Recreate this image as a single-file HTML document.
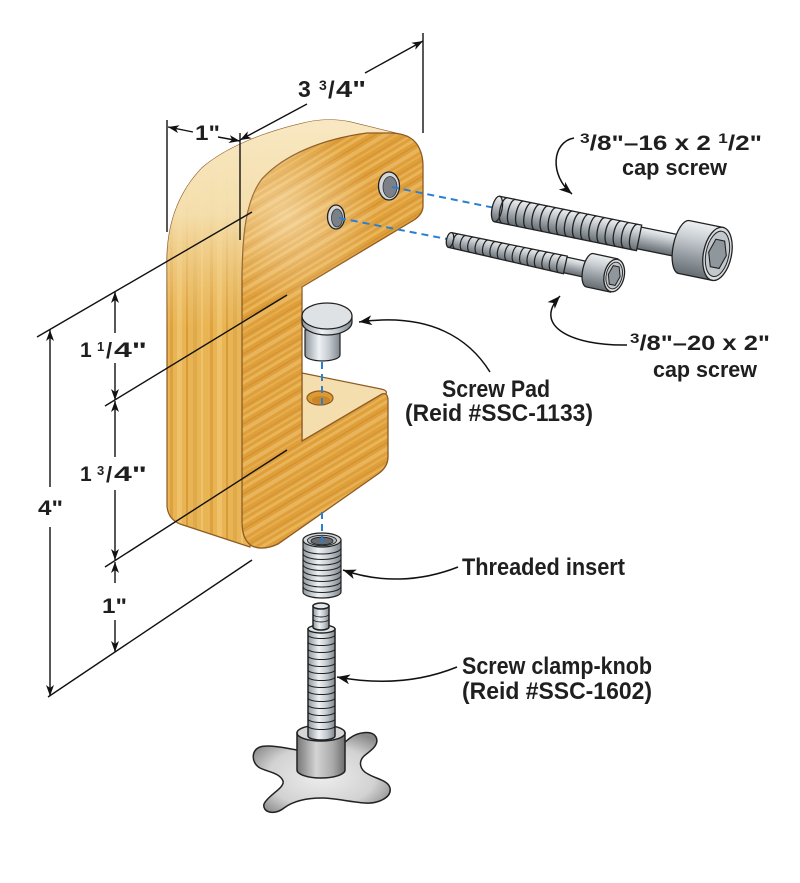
<!DOCTYPE html>
<html><head><meta charset="utf-8"><style>html,body{margin:0;padding:0;background:#fff}svg{display:block}</style></head>
<body>
<svg width="800" height="883" viewBox="0 0 800 883" xmlns="http://www.w3.org/2000/svg" font-family="'Liberation Sans', Arial, sans-serif" font-weight="bold">
<defs>
  <pattern id="grain" width="400" height="30" patternUnits="userSpaceOnUse" patternTransform="rotate(-31)">
    <rect width="400" height="30" fill="#df9f3b"/>
    <rect y="2" width="400" height="3" fill="#ebb95c" opacity=".85"/>
    <rect y="8" width="400" height="1.5" fill="#c9882a" opacity=".55"/>
    <rect y="12" width="400" height="4" fill="#eec06a" opacity=".7"/>
    <rect y="19" width="400" height="2" fill="#e6ae4e"/>
    <rect y="24" width="400" height="1.5" fill="#cd8d2e" opacity=".55"/>
    <rect y="27" width="400" height="2" fill="#f0c878" opacity=".5"/>
  </pattern>
  <pattern id="stripes" width="40" height="10" patternUnits="userSpaceOnUse" x="167">
    <rect width="40" height="10" fill="#e9b453"/>
    <rect x="3" width="3" height="10" fill="#d99c3a" opacity=".8"/>
    <rect x="10" width="5" height="10" fill="#f0c56e" opacity=".8"/>
    <rect x="19" width="2" height="10" fill="#d3922f" opacity=".7"/>
    <rect x="26" width="4" height="10" fill="#deaa4c"/>
    <rect x="34" width="2" height="10" fill="#f2ca78" opacity=".7"/>
  </pattern>
  <linearGradient id="cream" gradientUnits="userSpaceOnUse" x1="0" y1="120" x2="0" y2="330">
    <stop offset="0" stop-color="#f8e8c2" stop-opacity="1"/>
    <stop offset="0.45" stop-color="#f5e0b0" stop-opacity=".95"/>
    <stop offset="1" stop-color="#f0cf8a" stop-opacity="0"/>
  </linearGradient>
  <radialGradient id="sheen" gradientUnits="userSpaceOnUse" cx="285" cy="215" r="90">
    <stop offset="0" stop-color="#fff3d6" stop-opacity=".55"/>
    <stop offset="1" stop-color="#fff3d6" stop-opacity="0"/>
  </radialGradient>
  <linearGradient id="metalV" x1="0" y1="0" x2="0" y2="1">
    <stop offset="0" stop-color="#eef1f3"/>
    <stop offset=".3" stop-color="#c9ced2"/>
    <stop offset=".7" stop-color="#8d949a"/>
    <stop offset="1" stop-color="#656c72"/>
  </linearGradient>
  <linearGradient id="metalH" x1="0" y1="0" x2="1" y2="0">
    <stop offset="0" stop-color="#8e979e"/>
    <stop offset=".4" stop-color="#eef2f5"/>
    <stop offset=".7" stop-color="#c2c8cd"/>
    <stop offset="1" stop-color="#7f878e"/>
  </linearGradient>
  <linearGradient id="metalH2" x1="0" y1="0" x2="1" y2="0">
    <stop offset="0" stop-color="#777"/>
    <stop offset=".4" stop-color="#d4d4d4"/>
    <stop offset=".75" stop-color="#a9a9a9"/>
    <stop offset="1" stop-color="#6d6d6d"/>
  </linearGradient>
  <radialGradient id="knobG" cx="0.5" cy="0.55" r="0.6">
    <stop offset="0" stop-color="#eeeeee"/>
    <stop offset=".65" stop-color="#d2d2d2"/>
    <stop offset="1" stop-color="#8a8a8a"/>
  </radialGradient>
  <marker id="ah" viewBox="0 0 11 8" refX="11" refY="4" markerWidth="11" markerHeight="8" markerUnits="userSpaceOnUse" orient="auto-start-reverse">
    <path d="M0,0 L11,4 L0,8 L3,4 Z" fill="#111"/>
  </marker>
  <marker id="ah2" viewBox="0 0 13 10" refX="13" refY="5" markerWidth="13" markerHeight="10" markerUnits="userSpaceOnUse" orient="auto">
    <path d="M0,0 L13,5 L0,10 L3.5,5 Z" fill="#111"/>
  </marker>
</defs>

<rect width="800" height="883" fill="#fff"/>

<!-- ===== Wood body ===== -->
<path d="M403,135 L350,122 Q325,117 300,124 C262,133 225,148 202,168 C178,193 167,225 167,262 L167,506 Q168,519 180,524 L250,547 L252,300 Z" fill="url(#stripes)" stroke="#8d5a22" stroke-width="1.2"/>
<path d="M403,135 L350,122 Q325,117 300,124 C262,133 225,148 202,168 C178,193 167,225 167,262 L167,506 Q168,519 180,524 L250,547 L252,300 Z" fill="url(#cream)"/>

<!-- bottom arm top face -->
<path d="M302,373 L381,389 Q390,391 384,396 L302,441 Z" fill="#f4deae" stroke="#8d5a22" stroke-width="1.2"/>
<ellipse cx="320" cy="398" rx="13" ry="7" fill="#dc9a33" stroke="#8d5a22" stroke-width="1.2"/>
<ellipse cx="321" cy="400" rx="9" ry="4" fill="#c98628"/>

<!-- front face -->
<path d="M242,285 C242,235 246,200 262,179 C284,155 322,139 367,133 L392,133 Q414,134 420,150 Q423,157 423,166 L423,206 Q423,214 414,220 L302,287 L302,441 L382,394 Q388,392 388,401 L388,457 Q388,467 378,474 L278,544 Q263,551 252,546 Q242,540 242,522 Z" fill="url(#grain)" stroke="#8d5a22" stroke-width="1.3"/>
<path d="M242,285 C242,235 246,200 262,179 C284,155 322,139 367,133 L392,133 Q414,134 420,150 Q423,157 423,166 L423,206 Q423,214 414,220 L302,287 L302,441 L242,480 Z" fill="url(#sheen)"/>

<!-- holes in top arm -->
<ellipse cx="389" cy="186" rx="10.5" ry="14" fill="#d5d7d9" stroke="#222" stroke-width="1.3"/>
<ellipse cx="390" cy="187" rx="7" ry="10.5" fill="#7b8187" stroke="#333" stroke-width="0.8"/>
<ellipse cx="336" cy="217" rx="8.5" ry="12" fill="#d5d7d9" stroke="#222" stroke-width="1.3"/>
<ellipse cx="337" cy="218" rx="5.5" ry="9" fill="#7b8187" stroke="#333" stroke-width="0.8"/>

<!-- ===== Dimension lines ===== -->
<g stroke="#111" stroke-width="1.4" fill="none">
  <line x1="37" y1="337" x2="252" y2="212"/>
  <line x1="105" y1="406" x2="287" y2="295"/>
  <line x1="105" y1="567" x2="287" y2="450"/>
  <line x1="48" y1="697" x2="252" y2="560"/>
  <line x1="167" y1="120" x2="167" y2="232"/>
  <line x1="240" y1="133" x2="240" y2="240"/>
  <line x1="423" y1="33" x2="423" y2="133"/>

  <line x1="50" y1="487" x2="50" y2="330" marker-end="url(#ah)"/>
  <line x1="50" y1="527" x2="50" y2="696" marker-end="url(#ah)"/>
  <line x1="115" y1="333" x2="115" y2="292" marker-end="url(#ah)"/>
  <line x1="115" y1="363" x2="115" y2="400" marker-end="url(#ah)"/>
  <line x1="115" y1="457" x2="115" y2="401" marker-end="url(#ah)"/>
  <line x1="115" y1="490" x2="115" y2="560" marker-end="url(#ah)"/>
  <line x1="115" y1="583" x2="115" y2="562" marker-end="url(#ah)"/>
  <line x1="115" y1="620" x2="115" y2="652" marker-end="url(#ah)"/>

  <line x1="307" y1="104" x2="240" y2="140" marker-end="url(#ah)"/>
  <line x1="365" y1="73" x2="423" y2="41" marker-end="url(#ah)"/>
  <line x1="193" y1="132" x2="168" y2="127" marker-end="url(#ah)"/>
  <line x1="218" y1="137" x2="240" y2="141" marker-end="url(#ah)"/>
</g>

<!-- ===== Blue dashed center lines ===== -->
<g stroke="#2a7fd0" stroke-width="2" stroke-dasharray="7 5" fill="none">
  <line x1="392" y1="187" x2="495" y2="208"/>
  <line x1="339" y1="218" x2="452" y2="240"/>
  <line x1="322" y1="362" x2="322" y2="405"/>
</g>

<!-- ===== Big cap screw ===== -->
<g transform="translate(497,209) rotate(11.5)" stroke="#222" stroke-width="1.3">
  <rect x="140" y="-11" width="55" height="22" fill="url(#metalV)"/>
  <rect x="0" y="-13" width="145" height="26" fill="url(#metalV)"/>
  <ellipse cx="0" cy="0" rx="5" ry="13" fill="url(#metalV)"/>
  <path fill="none" stroke-width="1.3" d="M8,-13 A5,13 0 0 0 8,13 M16.3,-13 A5,13 0 0 0 16.3,13 M24.6,-13 A5,13 0 0 0 24.6,13 M32.9,-13 A5,13 0 0 0 32.9,13 M41.2,-13 A5,13 0 0 0 41.2,13 M49.5,-13 A5,13 0 0 0 49.5,13 M57.8,-13 A5,13 0 0 0 57.8,13 M66.1,-13 A5,13 0 0 0 66.1,13 M74.4,-13 A5,13 0 0 0 74.4,13 M82.7,-13 A5,13 0 0 0 82.7,13 M91,-13 A5,13 0 0 0 91,13 M99.3,-13 A5,13 0 0 0 99.3,13 M107.6,-13 A5,13 0 0 0 107.6,13 M115.9,-13 A5,13 0 0 0 115.9,13 M124.2,-13 A5,13 0 0 0 124.2,13 M132.5,-13 A5,13 0 0 0 132.5,13 M140.8,-13 A5,13 0 0 0 140.8,13"/>
  <path d="M191,-27 L225,-27 L225,27 L191,27 A11,27 0 0 1 191,-27 Z" fill="url(#metalV)"/>
  <ellipse cx="225" cy="0" rx="14" ry="27" fill="#dadee1"/>
  <ellipse cx="225" cy="0" rx="11.5" ry="23" fill="#c3c8cc" stroke-width="1"/>
  <polygon points="234,0 229.5,14 220.5,14 216,0 220.5,-14 229.5,-14" fill="#8f969c" stroke-width="1.1"/>
</g>

<!-- ===== Small cap screw ===== -->
<g transform="translate(450,240) rotate(12.2)" stroke="#222" stroke-width="1.3">
  <rect x="112" y="-8" width="33" height="16" fill="url(#metalV)"/>
  <path d="M0,-7.5 L118,-9 L118,9 L0,7.5 Z" fill="url(#metalV)"/>
  <ellipse cx="0" cy="0" rx="3.5" ry="7.5" fill="url(#metalV)"/>
  <path fill="none" stroke-width="1.2" d="M7,-7.6 A3.8,7.6 0 0 0 7,7.6 M14.6,-7.7 A3.8,7.7 0 0 0 14.6,7.7 M22.2,-7.8 A3.8,7.8 0 0 0 22.2,7.8 M29.8,-7.9 A3.8,7.9 0 0 0 29.8,7.9 M37.4,-8 A3.8,8 0 0 0 37.4,8 M45,-8.1 A3.8,8.1 0 0 0 45,8.1 M52.6,-8.2 A3.8,8.2 0 0 0 52.6,8.2 M60.2,-8.3 A3.8,8.3 0 0 0 60.2,8.3 M67.8,-8.4 A3.8,8.4 0 0 0 67.8,8.4 M75.4,-8.5 A3.8,8.5 0 0 0 75.4,8.5 M83,-8.6 A3.8,8.6 0 0 0 83,8.6 M90.6,-8.65 A3.8,8.65 0 0 0 90.6,8.65 M98.2,-8.75 A3.8,8.75 0 0 0 98.2,8.75 M105.8,-8.85 A3.8,8.85 0 0 0 105.8,8.85 M113.4,-8.95 A3.8,8.95 0 0 0 113.4,8.95"/>
  <path d="M143,-17 L168,-17 L168,17 L143,17 A7,17 0 0 1 143,-17 Z" fill="url(#metalV)"/>
  <ellipse cx="168" cy="0" rx="10" ry="16.5" fill="#dadee1"/>
  <ellipse cx="168" cy="0" rx="8" ry="13.5" fill="#c3c8cc" stroke-width="0.9"/>
  <polygon points="174,0 171,9.5 165,9.5 162,0 165,-9.5 171,-9.5" fill="#8f969c" stroke-width="1"/>
</g>

<!-- ===== Screw pad ===== -->
<g stroke="#222" stroke-width="1.2">
  <path d="M305,330 L305,355 A17.5,6 0 0 0 340,355 L340,330 Z" fill="url(#metalH)"/>
  <path d="M302,316 L302,322 A25,13 0 0 0 352,322 L352,316 Z" fill="url(#metalH)"/>
  <ellipse cx="327" cy="316" rx="25" ry="13" fill="#dfe2e5"/>
</g>

<!-- ===== Threaded insert ===== -->
<g stroke="#222" stroke-width="1.2">
  <path d="M303,540 L303,592 A19,6 0 0 0 341,592 L341,540 Z" fill="url(#metalH)"/>
  <path fill="none" stroke-width="1.1" d="M303,548 A19,6 0 0 0 341,548 M303,553.5 A19,6 0 0 0 341,553.5 M303,559 A19,6 0 0 0 341,559 M303,564.5 A19,6 0 0 0 341,564.5 M303,570 A19,6 0 0 0 341,570 M303,575.5 A19,6 0 0 0 341,575.5 M303,581 A19,6 0 0 0 341,581 M303,586.5 A19,6 0 0 0 341,586.5"/>
  <ellipse cx="322" cy="540" rx="19" ry="7" fill="#d3d7da"/>
  <ellipse cx="322" cy="540.5" rx="14.5" ry="5.2" fill="#b7bcc0" stroke-width="0.9"/>
  <ellipse cx="322" cy="541" rx="11" ry="3.8" fill="#666c71" stroke-width="0.8"/>
</g>
<line x1="322" y1="512" x2="322" y2="548" stroke="#2a7fd0" stroke-width="2" stroke-dasharray="7 5"/>

<!-- ===== Clamp knob ===== -->
<g stroke="#222" stroke-width="1.5">
  <path d="M297,750 C290,749 270,744 260,747 C251,750 251,763 260,768 C268,772 280,773 283,781 C285,788 268,795 264,804 C262,812 274,816 284,808 C292,802 305,798 322,798 C335,798 350,802 365,803 C377,804 392,798 390,788 C388,780 376,779 368,774 C360,770 358,762 364,756 C370,751 380,745 376,737 C372,730 358,732 350,738 L345,742 L297,750 Z" fill="url(#knobG)"/>
  <path d="M297,733 L297,770 A24,8 0 0 0 345,770 L345,733 Z" fill="url(#metalH2)"/>
  <ellipse cx="321" cy="733" rx="24" ry="8" fill="#d6d6d6"/>
  <path d="M308,629 L308,736 A13.5,4 0 0 0 335,736 L335,629 Z" fill="url(#metalH)"/>
  <path fill="none" stroke-width="1.1" d="M308,635 A13.5,3.5 0 0 0 335,635 M308,642 A13.5,3.5 0 0 0 335,642 M308,649 A13.5,3.5 0 0 0 335,649 M308,656 A13.5,3.5 0 0 0 335,656 M308,663 A13.5,3.5 0 0 0 335,663 M308,670 A13.5,3.5 0 0 0 335,670 M308,677 A13.5,3.5 0 0 0 335,677 M308,684 A13.5,3.5 0 0 0 335,684 M308,691 A13.5,3.5 0 0 0 335,691 M308,698 A13.5,3.5 0 0 0 335,698 M308,705 A13.5,3.5 0 0 0 335,705 M308,712 A13.5,3.5 0 0 0 335,712 M308,719 A13.5,3.5 0 0 0 335,719 M308,726 A13.5,3.5 0 0 0 335,726"/>
  <ellipse cx="321.5" cy="629" rx="13.5" ry="4" fill="#dfe3e6"/>
  <path d="M313,606 L313,627 A8,3 0 0 0 329,627 L329,606 Z" fill="url(#metalH)"/>
  <path fill="none" stroke-width="0.9" d="M313,614 A8,3 0 0 0 329,614 M313,619 A8,3 0 0 0 329,619"/>
  <ellipse cx="321" cy="606" rx="8" ry="3" fill="#e3e7ea"/>
</g>

<!-- ===== Leaders ===== -->
<g stroke="#111" stroke-width="1.5" fill="none">
  <path d="M574,138 C552,142 549,175 572,194" marker-end="url(#ah2)"/>
  <path d="M627,345 C572,346 532,326 560,296" marker-end="url(#ah2)"/>
  <path d="M490,372 C470,340 432,312 359,322" marker-end="url(#ah2)"/>
  <path d="M458,567 C420,582 380,583 343,570" marker-end="url(#ah2)"/>
  <path d="M457,667 C420,682 380,685 337,677" marker-end="url(#ah2)"/>
</g>

<!-- ===== Text ===== -->
<g fill="#1f1f1f">
  <!-- top dims -->
  <text x="298" y="97" font-size="23">3</text>
  <text x="319" y="90" font-size="14">3</text>
  <text x="328" y="98" font-size="24">/</text>
  <text x="336" y="97" font-size="23" textLength="30" lengthAdjust="spacingAndGlyphs">4"</text>
  <text x="195" y="140" font-size="21" textLength="25" lengthAdjust="spacingAndGlyphs">1"</text>

  <!-- left dims -->
  <text x="38" y="515" font-size="21" textLength="25" lengthAdjust="spacingAndGlyphs">4"</text>
  <text x="80" y="357" font-size="21">1</text>
  <text x="97" y="351" font-size="13">1</text>
  <text x="106" y="358" font-size="22">/</text>
  <text x="114" y="357" font-size="21" textLength="33" lengthAdjust="spacingAndGlyphs">4"</text>
  <text x="80" y="481" font-size="21">1</text>
  <text x="97" y="475" font-size="13">3</text>
  <text x="106" y="482" font-size="22">/</text>
  <text x="114" y="481" font-size="21" textLength="33" lengthAdjust="spacingAndGlyphs">4"</text>
  <text x="102" y="613" font-size="21" textLength="25" lengthAdjust="spacingAndGlyphs">1"</text>

  <!-- big screw label -->
  <text x="580" y="150" font-size="21" textLength="182" lengthAdjust="spacingAndGlyphs"><tspan font-size="14" dy="-7">3</tspan><tspan dy="7">/8"–16 x 2 </tspan><tspan font-size="14" dy="-7">1</tspan><tspan dy="7">/2"</tspan></text>
  <text x="622" y="175" font-size="22" textLength="105" lengthAdjust="spacingAndGlyphs">cap screw</text>

  <!-- small screw label -->
  <text x="630" y="350" font-size="21" textLength="140" lengthAdjust="spacingAndGlyphs"><tspan font-size="14" dy="-7">3</tspan><tspan dy="7">/8"–20 x 2"</tspan></text>
  <text x="653" y="377" font-size="22" textLength="104" lengthAdjust="spacingAndGlyphs">cap screw</text>

  <text x="442" y="397" font-size="24" textLength="108" lengthAdjust="spacingAndGlyphs">Screw Pad</text>
  <text x="405" y="421" font-size="24" textLength="188" lengthAdjust="spacingAndGlyphs">(Reid #SSC-1133)</text>
  <text x="462" y="575" font-size="24" textLength="163" lengthAdjust="spacingAndGlyphs">Threaded insert</text>
  <text x="462" y="674" font-size="24" textLength="190" lengthAdjust="spacingAndGlyphs">Screw clamp-knob</text>
  <text x="462" y="699" font-size="24" textLength="190" lengthAdjust="spacingAndGlyphs">(Reid #SSC-1602)</text>
</g>
</svg>
</body></html>
